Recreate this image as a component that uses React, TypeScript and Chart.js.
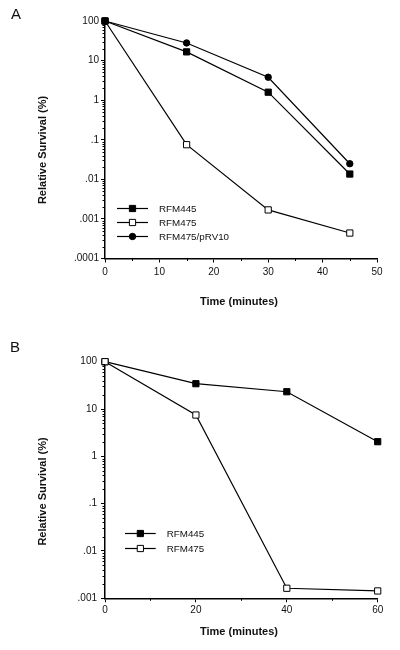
import React, { useEffect, useRef } from 'react';
import { Chart, registerables } from 'chart.js';

Chart.register(...registerables);

// ---------- data ----------
const timeA = [0, 15, 30, 45];
const rfm445A = [100, 16.6, 1.59, 0.0136];
const rfm475A = [100, 0.075, 0.00169, 0.00044];
const rfm475pRV10A = [100, 27.9, 3.8, 0.0248];

const timeB = [0, 20, 40, 60];
const rfm445B = [100, 34.3, 23.2, 2.04];
const rfm475B = [100, 7.47, 0.00163, 0.00143];

const namesA = ['RFM445', 'RFM475', 'RFM475/pRV10'];
const namesB = ['RFM445', 'RFM475'];

const yTickValuesA = [0.0001, 0.001, 0.01, 0.1, 1, 10, 100];
const yTickLabelsA = ['.0001', '.001', '.01', '.1', '1', '10', '100'];
const yTickValuesB = [0.001, 0.01, 0.1, 1, 10, 100];
const yTickLabelsB = ['.001', '.01', '.1', '1', '10', '100'];

const xTicksA = [0, 10, 20, 30, 40, 50];
const xMinorA = [5, 15, 25, 35, 45];
const xTicksB = [0, 20, 40, 60];
const xMinorB = [10, 30, 50];

const logMinorMantissas = [2, 3, 4, 5, 6, 7, 8, 9];

const xTitle = 'Time (minutes)';
const yTitle = 'Relative Survival (%)';

// ---------- styling / layout ----------
const FONT = '"Liberation Sans", Arial, Helvetica, sans-serif';
const INK = '#111';

type Panel = {
  letter: string;
  letterX: number;
  letterBase: number;
  top: number;
  right: number;
  left: number;
  xAxisH: number;
  xMin: number;
  xMax: number;
  xTicks: number[];
  xMinor: number[];
  xPad: number;
  yMin: number;
  yMax: number;
  yTickValues: number[];
  yTickLabels: string[];
  yPad: number;
  yTitleX: number;
  yTitleY: number;
  xTitleX: number;
  xTitleY: number;
  legendLine0: number;
  legendLine1: number;
  legendText: number;
  legendRow0: number;
  legendRowH: number;
  names: string[];
  time: number[];
  series: number[][];
  styles: { pointStyle: string; fill: string; radius: number; order: number }[];
};

const panelA: Panel = {
  letter: 'A', letterX: 11, letterBase: 18.6,
  top: 21, right: 377, left: 105, xAxisH: 66.5,
  xMin: 0, xMax: 50, xTicks: xTicksA, xMinor: xMinorA, xPad: 4,
  yMin: 0.0001, yMax: 100, yTickValues: yTickValuesA, yTickLabels: yTickLabelsA, yPad: 2,
  yTitleX: 42.5, yTitleY: 150, xTitleX: 239, xTitleY: 301.7,
  legendLine0: 117, legendLine1: 148, legendText: 159, legendRow0: 208.5, legendRowH: 14,
  names: namesA, time: timeA, series: [rfm445A, rfm475A, rfm475pRV10A],
  styles: [
    { pointStyle: 'rect', fill: '#000', radius: 4.4, order: 0 },
    { pointStyle: 'rect', fill: '#fff', radius: 4.4, order: 1 },
    { pointStyle: 'circle', fill: '#000', radius: 3.2, order: 2 },
  ],
};

const panelB: Panel = {
  letter: 'B', letterX: 10, letterBase: 26.7,
  top: 36.7, right: 377.7, left: 105, xAxisH: 51.7,
  xMin: 0, xMax: 60, xTicks: xTicksB, xMinor: xMinorB, xPad: 2,
  yMin: 0.001, yMax: 100, yTickValues: yTickValuesB, yTickLabels: yTickLabelsB, yPad: 4,
  yTitleX: 42.5, yTitleY: 166.5, xTitleX: 239, xTitleY: 306.7,
  legendLine0: 125, legendLine1: 155.7, legendText: 166.7, legendRow0: 208.5, legendRowH: 15,
  names: namesB, time: timeB, series: [rfm445B, rfm475B],
  styles: [
    { pointStyle: 'rect', fill: '#000', radius: 4.4, order: 1 },
    { pointStyle: 'rect', fill: '#fff', radius: 4.4, order: 0 },
  ],
};

function drawMarker(ctx: CanvasRenderingContext2D, style: string, x: number, y: number, r: number, fill: string) {
  ctx.save();
  ctx.fillStyle = fill;
  ctx.strokeStyle = '#000';
  ctx.lineWidth = 1;
  ctx.beginPath();
  if (style === 'circle') {
    ctx.arc(x, y, r, 0, Math.PI * 2);
  } else {
    const s = Math.SQRT1_2 * r;
    ctx.rect(x - s, y - s, 2 * s, 2 * s);
  }
  ctx.fill();
  ctx.stroke();
  ctx.restore();
}

function makeDecor(P: Panel) {
  return {
    id: 'decor' + P.letter,
    afterDraw(chart: any) {
      const ctx: CanvasRenderingContext2D = chart.ctx;
      const xs = chart.scales.x;
      const ys = chart.scales.y;
      const area = chart.chartArea;
      ctx.save();
      // minor ticks
      ctx.strokeStyle = '#000';
      ctx.lineWidth = 1;
      ctx.beginPath();
      for (let e = Math.round(Math.log10(P.yMin)); e < Math.round(Math.log10(P.yMax)); e++) {
        for (const m of logMinorMantissas) {
          const v = m * Math.pow(10, e);
          const py = Math.round(ys.getPixelForValue(v)) + 0.5;
          ctx.moveTo(area.left - 2.5, py);
          ctx.lineTo(area.left, py);
        }
      }
      for (const v of P.xMinor) {
        const px = Math.round(xs.getPixelForValue(v)) + 0.5;
        ctx.moveTo(px, area.bottom);
        ctx.lineTo(px, area.bottom + 2.5);
      }
      ctx.stroke();

      // panel letter
      ctx.fillStyle = INK;
      ctx.font = `15px ${FONT}`;
      ctx.textAlign = 'left';
      ctx.textBaseline = 'alphabetic';
      ctx.fillText(P.letter, P.letterX, P.letterBase);

      // axis titles
      ctx.font = `bold 11px ${FONT}`;
      ctx.textAlign = 'center';
      ctx.textBaseline = 'middle';
      ctx.fillText(xTitle, P.xTitleX, P.xTitleY);
      ctx.save();
      ctx.translate(P.yTitleX, P.yTitleY);
      ctx.rotate(-Math.PI / 2);
      ctx.fillText(yTitle, 0, 0);
      ctx.restore();

      // legend
      chart.data.datasets.forEach((ds: any, i: number) => {
        const y = P.legendRow0 + i * P.legendRowH;
        ctx.strokeStyle = ds.borderColor;
        ctx.lineWidth = ds.borderWidth;
        ctx.beginPath();
        ctx.moveTo(P.legendLine0, y);
        ctx.lineTo(P.legendLine1, y);
        ctx.stroke();
        drawMarker(ctx, ds.pointStyle, (P.legendLine0 + P.legendLine1) / 2, y, ds.pointRadius, ds.pointBackgroundColor);
        ctx.fillStyle = INK;
        ctx.font = `9.8px ${FONT}`;
        ctx.textAlign = 'left';
        ctx.textBaseline = 'middle';
        ctx.fillText(ds.label, P.legendText, y + 0.5);
      });
      ctx.restore();
    },
  };
}

function buildConfig(P: Panel): any {
  const datasets = P.series.map((vals, i) => ({
    label: P.names[i],
    data: P.time.map((t, j) => ({ x: t, y: vals[j] })),
    order: P.styles[i].order,
    borderColor: '#000',
    borderWidth: 1.2,
    pointStyle: P.styles[i].pointStyle,
    pointRadius: P.styles[i].radius,
    pointBackgroundColor: P.styles[i].fill,
    pointBorderColor: '#000',
    pointBorderWidth: 1,
    tension: 0,
    fill: false,
    clip: false,
  }));
  const tickFont = { family: FONT, size: 10 };
  return {
    type: 'line',
    data: { datasets },
    options: {
      animation: false,
      responsive: false,
      maintainAspectRatio: false,
      devicePixelRatio: 1,
      events: [],
      layout: { padding: { top: P.top, right: 400 - P.right, bottom: 0, left: 0 } },
      plugins: { legend: { display: false }, tooltip: { enabled: false }, title: { display: false } },
      scales: {
        x: {
          type: 'linear',
          min: P.xMin,
          max: P.xMax,
          afterBuildTicks: (s: any) => { s.ticks = P.xTicks.map((v) => ({ value: v })); },
          afterFit: (s: any) => { s.height = P.xAxisH; },
          grid: { drawOnChartArea: false, drawTicks: true, tickLength: 4, tickColor: '#000', tickWidth: 1 },
          border: { color: '#000', width: 1.5 },
          ticks: {
            font: tickFont, color: INK, padding: P.xPad, maxRotation: 0, autoSkip: false,
            callback: (v: any) => String(v),
          },
        },
        y: {
          type: 'logarithmic',
          min: P.yMin,
          max: P.yMax,
          afterBuildTicks: (s: any) => { s.ticks = P.yTickValues.map((v) => ({ value: v })); },
          afterFit: (s: any) => { s.width = P.left; },
          grid: { drawOnChartArea: false, drawTicks: true, tickLength: 4, tickColor: '#000', tickWidth: 1 },
          border: { color: '#000', width: 1.5 },
          ticks: {
            font: tickFont, color: INK, padding: P.yPad, autoSkip: false,
            callback: (v: any) => {
              const idx = P.yTickValues.findIndex((t) => Math.abs(Math.log10(t) - Math.log10(v)) < 1e-6);
              return idx >= 0 ? P.yTickLabels[idx] : '';
            },
          },
        },
      },
    },
    plugins: [makeDecor(P)],
  };
}

function PanelChart({ P }: { P: Panel }) {
  const ref = useRef<HTMLCanvasElement | null>(null);
  useEffect(() => {
    if (!ref.current) return;
    const chart = new Chart(ref.current, buildConfig(P));
    return () => chart.destroy();
  }, [P]);
  return <canvas ref={ref} width={400} height={325} style={{ display: 'block', width: 400, height: 325 }} />;
}

export default function App() {
  return (
    <div style={{ position: 'absolute', top: 0, left: 0, width: 400, height: 650, background: '#fff' }}>
      <PanelChart P={panelA} />
      <PanelChart P={panelB} />
    </div>
  );
}
